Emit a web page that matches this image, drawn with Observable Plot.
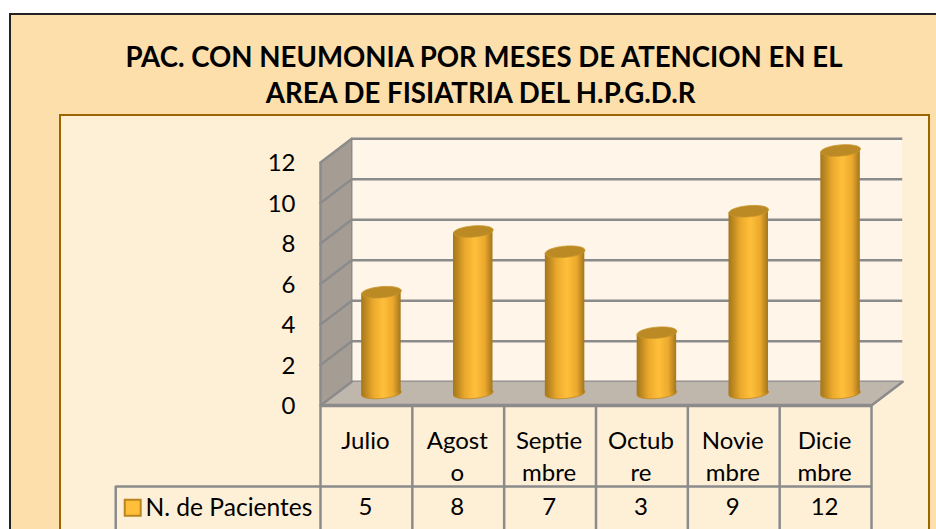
<!DOCTYPE html>
<html>
<head>
<meta charset="utf-8">
<script src="https://cdn.jsdelivr.net/npm/d3@7"></script>
<script src="https://cdn.jsdelivr.net/npm/@observablehq/plot@0.6"></script>
<style>
html,body{margin:0;padding:0;background:#fff;width:936px;height:529px;overflow:hidden}
#outer{position:absolute;left:9px;top:13px;width:960px;height:560px;background:#fcdfab;border:2px solid #222;box-sizing:border-box}
#inner{position:absolute;left:59px;top:114px;width:871px;height:450px;background:#feefd7;border:2px solid #9c6500;box-sizing:border-box}
#title{position:absolute;left:60px;top:39px;width:848px;text-align:center;font:bold 27.6px/36px Lato,sans-serif;color:#000;margin:0;white-space:nowrap}
#chart{position:absolute;left:0;top:0}
</style>
</head>
<body>
<div id="outer"></div>
<div id="inner"></div>
<h1 id="title">PAC. CON NEUMONIA POR MESES DE ATENCION EN EL<br>AREA DE FISIATRIA DEL H.P.G.D.R&nbsp;</h1>
<div id="chart"></div>
<script>
const months = ["Julio", "Agost\no", "Septie\nmbre", "Octub\nre", "Novie\nmbre", "Dicie\nmbre"];
const pacientes = [5, 8, 7, 3, 9, 12];
const yTicks = [0, 2, 4, 6, 8, 10, 12];
const seriesName = "N. de Pacientes";

const depthX = 0.34, depthY = 1.17;   // oblique depth of the 3D box, in data units
const halfW = 0.215, tilt = 0.085;    // cylinder half width and ellipse tilt
const rowHeader = -4, rowBottom = -6.2, keyLeft = -2.23;
const grid = "#8b8b8b";

function ellipseSymbol(rx, ry, deg) {
  return {
    draw(ctx) {
      const a = deg * Math.PI / 180, c = Math.cos(a), s = Math.sin(a), k = 0.5523;
      const P = (x, y) => [x * c - y * s, x * s + y * c];
      const seg = (p1, p2, p3) => ctx.bezierCurveTo(...P(...p1), ...P(...p2), ...P(...p3));
      ctx.moveTo(...P(rx, 0));
      seg([rx, k * ry], [k * rx, ry], [0, ry]);
      seg([-k * rx, ry], [-rx, k * ry], [-rx, 0]);
      seg([-rx, -k * ry], [-k * rx, -ry], [0, -ry]);
      seg([k * rx, -ry], [rx, -k * ry], [rx, 0]);
      ctx.closePath();
    }
  };
}

const rows = months.map((m, i) => ({m, i, v: pacientes[i], cx: i + 0.5}));
const body = rows.flatMap(d => [
  {m: d.m, x: d.cx - halfW, y1: -tilt, y2: d.v - tilt},
  {m: d.m, x: d.cx + halfW, y1: tilt, y2: d.v + tilt}
]);
const poly = pts => pts.map(([x, y]) => ({x, y}));
const leftWall = poly([[0, 0], [depthX, depthY], [depthX, 12 + depthY], [0, 12], [0, 0]]);
const floor = poly([[0, 0], [depthX, depthY], [6 + depthX, depthY], [6, 0], [0, 0]]);
const columns = d3.range(0, 7);
const cyl = {dx: 15, dy: -12};

const chart = Plot.plot({
  width: 936, height: 529,
  marginLeft: 320, marginRight: 65, marginTop: 162, marginBottom: 124,
  style: {background: "transparent", fontFamily: "Lato, sans-serif", overflow: "visible"},
  x: {type: "linear", domain: [0, 6], axis: null},
  y: {domain: [0, 12], axis: null},
  marks: [
    () => {
      const defs = d3.create("svg:defs");
      const g = defs.append("linearGradient").attr("id", "cyl");
      [[0, "#a4761c"], [0.1, "#b98620"], [0.3, "#eba92c"], [0.55, "#ffbf3a"], [0.8, "#eca92e"], [0.92, "#c08a22"], [1, "#a4761c"]]
        .forEach(([o, c]) => g.append("stop").attr("offset", o).attr("stop-color", c));
      return defs.node();
    },
    // back wall
    Plot.rect([0], {x1: depthX, x2: 6 + depthX, y1: depthY, y2: 12 + depthY, fill: "#fff5e9"}),
    Plot.ruleY(yTicks, {y: d => d + depthY, x1: depthX, x2: 6 + depthX, stroke: grid, strokeWidth: 2.5}),
    // left wall and floor
    Plot.line(leftWall, {x: "x", y: "y", fill: "#a59d94", stroke: "none"}),
    Plot.line(floor, {x: "x", y: "y", fill: "#bfb6ac", stroke: "none"}),
    ...yTicks.map(t => Plot.line(poly([[0, t], [depthX, t + depthY]]), {x: "x", y: "y", stroke: grid, strokeWidth: 2.5})),
    Plot.ruleX([depthX], {y1: depthY, y2: 12 + depthY, stroke: grid, strokeWidth: 1.5}),
    Plot.line(poly([[6, 0], [6 + depthX, depthY]]), {x: "x", y: "y", stroke: grid, strokeWidth: 2.5}),
    // table grid
    Plot.ruleX(columns, {y1: 0, y2: rowBottom, stroke: grid, strokeWidth: 2.5}),
    Plot.ruleX([0], {y1: 0, y2: 12, stroke: grid, strokeWidth: 2.5}),
    Plot.ruleY([0], {x1: 0, x2: 6, stroke: grid, strokeWidth: 3.5}),
    Plot.ruleY([rowHeader], {x1: keyLeft, x2: 6, stroke: grid, strokeWidth: 2.5}),
    Plot.ruleX([keyLeft], {y1: rowHeader, y2: rowBottom, stroke: grid, strokeWidth: 2.5}),
    // cylinders
    Plot.dot(rows, {x: "cx", y: 0, ...cyl, symbol: ellipseSymbol(20, 5, -5), fill: "url(#cyl)", stroke: "#c08a22", strokeWidth: 0.8}),
    Plot.areaY(body, {x: "x", y1: "y1", y2: "y2", z: "m", ...cyl, fill: "url(#cyl)", stroke: "none"}),
    Plot.dot(rows, {x: "cx", y: "v", ...cyl, symbol: ellipseSymbol(20, 5.6, -5), fill: "#bb8a24", stroke: "#c9952a", strokeWidth: 0.8}),
    // y labels
    Plot.text(yTicks, {x: 0, y: d => d, text: d => String(d), textAnchor: "end", dx: -25, dy: 1, fontSize: 24, fill: "#000"}),
    // table text
    Plot.text(rows, {x: "cx", y: rowHeader + 2.95, dx: -1, text: "m", fontSize: 24, lineHeight: 1.33, lineAnchor: "top", fill: "#000"}),
    Plot.text(rows, {x: "cx", y: rowHeader - 1.05, dx: -1, text: "v", fontSize: 24, fill: "#000"}),
    Plot.text([seriesName], {x: 0, y: rowHeader - 1.05, text: d => d, textAnchor: "end", dx: -8, fontSize: 24.6, fill: "#000"}),
    // legend key
    Plot.dot([seriesName], {x: keyLeft, y: rowHeader - 1.05, dx: 17, symbol: "square", r: 9, fill: "#ffbf3a", stroke: "#b8851f", strokeWidth: 2})
  ]
});
document.getElementById("chart").appendChild(chart);
</script>
</body>
</html>
